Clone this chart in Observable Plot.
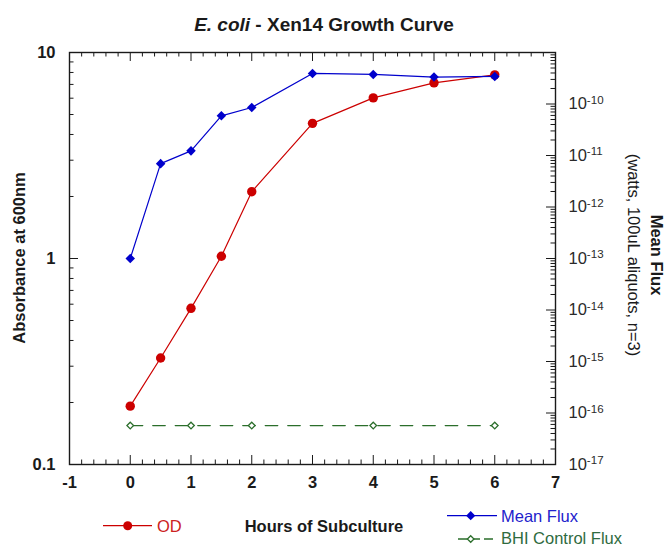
<!DOCTYPE html>
<html><head><meta charset="utf-8">
<script src="https://cdn.jsdelivr.net/npm/d3@7"></script>
<script src="https://cdn.jsdelivr.net/npm/@observablehq/plot@0.6"></script>
<style>
body{margin:0;background:#fff}
#wrap{position:relative;width:667px;height:547px;font-family:"Liberation Sans",Arial,sans-serif}
#wrap svg{position:absolute;left:0;top:0}
</style></head><body><div id="wrap"></div>
<script>
// ---- data ----
const hours = [0, 0.5, 1, 1.5, 2, 3, 4, 5, 6];
const od = [0.192, 0.329, 0.573, 1.025, 2.11, 4.53, 6.02, 7.12, 7.79];
const meanFlux = [1.0e-13, 6.95e-12, 1.23e-11, 5.9e-11, 8.55e-11, 3.92e-10, 3.75e-10, 3.33e-10, 3.43e-10];
const bhiHours = [0, 1, 2, 4, 6];
const bhiFlux = [5.7e-17, 5.7e-17, 5.7e-17, 5.7e-17, 5.7e-17];
const xTicks = [-1, 0, 1, 2, 3, 4, 5, 6, 7];
const leftTicks = [0.1, 1, 10];
const rightExponents = [-17, -16, -15, -14, -13, -12, -11, -10];

// ---- layout ----
const W = 667, H = 547, mL = 69, mR = 112, mT = 52, mB = 83;
const fw = W - mL - mR, fh = H - mT - mB;
const RED = "#cc0000", BLUE = "#0000cc", GREEN = "#2b6e2b", INK = "#1a1a1a";
const FONT = "Liberation Sans, Arial, sans-serif";

// right axis (1e-17 .. 1e-9) mapped onto left log axis (0.1 .. 10)
const toLeft = v => Math.pow(10, -1 + (Math.log10(v) + 17) / 4);

// minor tick positions
const xMinor = d3.range(-1, 7.0001, 0.2).filter(v => Math.abs(v - Math.round(v)) > 1e-6);
const leftMinor = [];
for (const dec of [0.1, 1]) for (let m = 2; m <= 9; m++) leftMinor.push(dec * m);
const rightMajor = d3.range(-17, -8).map(e => toLeft(Math.pow(10, e)));
const rightMinor = [];
for (let e = -17; e <= -10; e++) for (let m = 2; m <= 9; m++) rightMinor.push(toLeft(m * Math.pow(10, e)));

const odRows = hours.map((h, i) => ({h, v: od[i]}));
const fluxRows = hours.map((h, i) => ({h, v: toLeft(meanFlux[i])}));
const bhiRows = bhiHours.map((h, i) => ({h, v: toLeft(bhiFlux[i])}));

const txt = {fontSize: 16.5, fontWeight: "bold", fill: INK};

const chart = Plot.plot({
  width: W, height: H,
  marginLeft: mL, marginRight: mR, marginTop: mT, marginBottom: mB,
  style: {fontFamily: FONT, background: "transparent"},
  x: {domain: [-1, 7]},
  y: {type: "log", domain: [0.1, 10]},
  marks: [
    // tick marks (inward)
    Plot.tickX(xMinor, {x: d => d, insetTop: fh - 4.5, stroke: INK}),
    Plot.tickX(xTicks, {x: d => d, insetTop: fh - 9, stroke: INK}),
    Plot.tickX(xMinor, {x: d => d, insetBottom: fh - 4.5, stroke: INK}),
    Plot.tickX(xTicks, {x: d => d, insetBottom: fh - 9, stroke: INK}),
    Plot.tickY(leftMinor, {y: d => d, insetRight: fw - 4.5, stroke: INK}),
    Plot.tickY(leftTicks, {y: d => d, insetRight: fw - 9, stroke: INK}),
    Plot.tickY(rightMinor, {y: d => d, insetLeft: fw - 4.5, stroke: INK}),
    Plot.tickY(rightMajor, {y: d => d, insetLeft: fw - 9, stroke: INK}),
    Plot.frame({stroke: INK, strokeWidth: 1.4}),
    // axes labels
    Plot.axisX({anchor: "bottom", ticks: xTicks, tickSize: 0, tickPadding: 12, label: null, tickFormat: d => String(d), ...txt}),
    Plot.axisY({anchor: "left", ticks: leftTicks, tickSize: 0, tickPadding: 14, label: null, tickFormat: d => String(d), ...txt}),
    Plot.text(rightExponents, {y: e => toLeft(Math.pow(10, e)), frameAnchor: "right", dx: 13, textAnchor: "start",
      text: e => "10^" + e, fontSize: 16.5, fill: "#2a2a2a"}),
    // series
    Plot.line(bhiRows, {x: "h", y: "v", stroke: GREEN, strokeWidth: 1.3, strokeDasharray: "12.5,10"}),
    Plot.dot(bhiRows, {x: "h", y: "v", symbol: "diamond2", r: 3, stroke: GREEN, fill: "white", strokeWidth: 1.3}),
    Plot.line(odRows, {x: "h", y: "v", stroke: RED, strokeWidth: 1.2}),
    Plot.dot(odRows, {x: "h", y: "v", r: 4.7, fill: RED, stroke: "none"}),
    Plot.line(fluxRows, {x: "h", y: "v", stroke: BLUE, strokeWidth: 1.2}),
    Plot.dot(fluxRows, {x: "h", y: "v", symbol: "diamond2", r: 4.3, fill: BLUE, stroke: "none"})
  ]
});
document.getElementById("wrap").appendChild(chart);

// superscript exponents on right axis
d3.select(chart).selectAll("text").each(function() {
  const t = this.textContent;
  if (t.startsWith("10^")) {
    const ex = t.slice(3);
    const s = d3.select(this);
    s.text(null);
    s.append("tspan").text("10");
    s.append("tspan").attr("dy", "-0.5em").attr("font-size", "0.7em").text(ex);
  }
});

// ---- overlay: title, axis titles, legend ----
const ov = d3.select("#wrap").append("svg").attr("width", W).attr("height", H)
  .style("font-family", FONT).style("pointer-events", "none");

const title = ov.append("text").attr("x", 324).attr("y", 24.5).attr("dy", "0.35em")
  .attr("text-anchor", "middle").attr("font-size", 19).attr("font-weight", "bold").attr("fill", INK);
title.append("tspan").attr("font-style", "italic").text("E. coli");
title.append("tspan").text(" - Xen14 Growth Curve");

ov.append("text").attr("transform", "translate(19,258) rotate(-90)").attr("dy", "0.35em")
  .attr("text-anchor", "middle").attr("font-size", 16.5).attr("font-weight", "bold").attr("fill", INK)
  .text("Absorbance at 600nm");
ov.append("text").attr("transform", "translate(657,255) rotate(90)").attr("dy", "0.35em")
  .attr("text-anchor", "middle").attr("font-size", 16.5).attr("font-weight", "bold").attr("fill", INK)
  .text("Mean Flux");
ov.append("text").attr("transform", "translate(634,255) rotate(90)").attr("dy", "0.35em")
  .attr("text-anchor", "middle").attr("font-size", 16.5).attr("fill", INK)
  .text("(watts, 100uL aliquots, n=3)");
ov.append("text").attr("x", 324).attr("y", 526).attr("dy", "0.35em")
  .attr("text-anchor", "middle").attr("font-size", 16.5).attr("font-weight", "bold").attr("fill", INK)
  .text("Hours of Subculture");

const diamond = (cx, cy, r) => `M${cx},${cy - r}L${cx + r},${cy}L${cx},${cy + r}L${cx - r},${cy}Z`;
// OD
ov.append("line").attr("x1", 103).attr("x2", 152).attr("y1", 525.7).attr("y2", 525.7).attr("stroke", RED).attr("stroke-width", 1.2);
ov.append("circle").attr("cx", 127.7).attr("cy", 525.7).attr("r", 4.5).attr("fill", RED);
ov.append("text").attr("x", 157).attr("y", 526).attr("dy", "0.35em").attr("font-size", 16.5).attr("fill", "#cc2222").text("OD");
// Mean Flux
ov.append("line").attr("x1", 447).attr("x2", 497).attr("y1", 515.7).attr("y2", 515.7).attr("stroke", BLUE).attr("stroke-width", 1.2);
ov.append("path").attr("d", diamond(470.7, 515.7, 4.6)).attr("fill", BLUE);
ov.append("text").attr("x", 501).attr("y", 516).attr("dy", "0.35em").attr("font-size", 16.5).attr("fill", "#2222cc").text("Mean Flux");
// BHI Control Flux
ov.append("path").attr("d", "M458,539H468M473,539H480M484,539H493").attr("stroke", GREEN).attr("stroke-width", 1.3);
ov.append("path").attr("d", diamond(470.7, 539, 3.3)).attr("fill", "white").attr("stroke", GREEN).attr("stroke-width", 1.3);
ov.append("text").attr("x", 501).attr("y", 538.5).attr("dy", "0.35em").attr("font-size", 16.5).attr("fill", "#2f6b3f").text("BHI Control Flux");
</script></body></html>
